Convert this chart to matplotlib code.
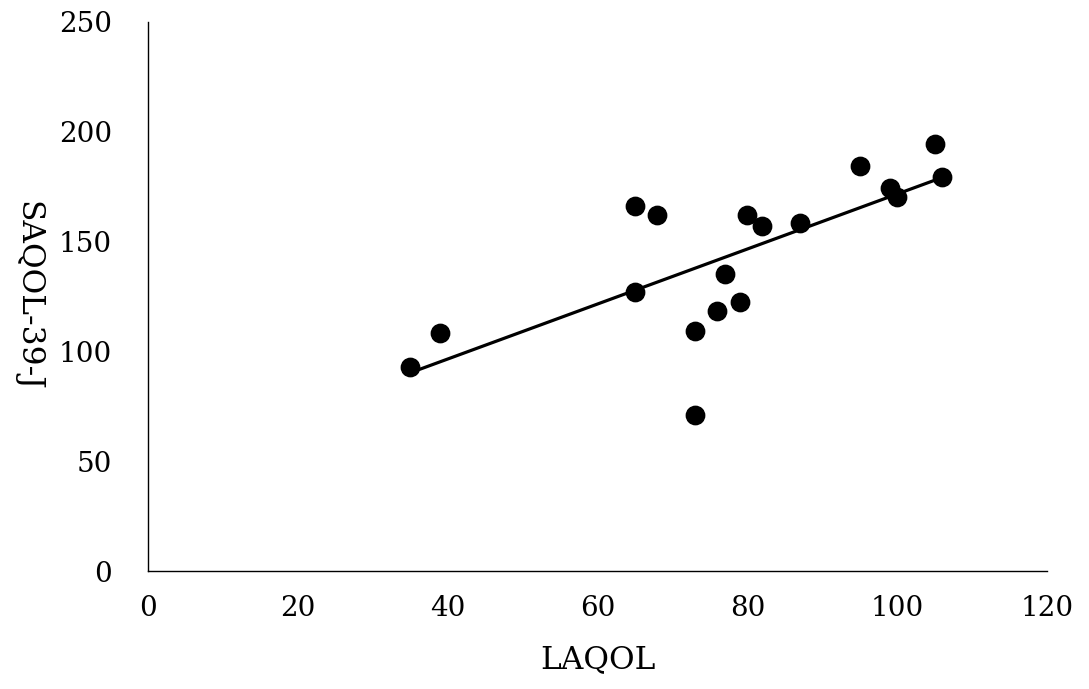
import matplotlib.pyplot as plt
import numpy as np

# LAQOL vs SAQOL-39-J
laqol = [35, 39, 65, 68, 65, 73, 73, 77, 76, 79, 80, 82, 87, 95, 99, 100, 105, 106]
saqol = [93.0, 108.5, 166.2, 161.9, 127.2, 109.5, 71.2, 135.2, 118.3, 122.5,
         161.9, 157.1, 158.6, 184.6, 174.3, 170.1, 194.4, 179.6]

x = np.asarray(laqol)
y = np.asarray(saqol)
coeff = np.polyfit(x, y, 1)
t = np.poly1d(coeff)
xl = np.array([x.min(), x.max()])

plt.rcParams['font.family'] = ['DejaVu Serif']

fig = plt.figure(figsize=(10.89, 6.89), dpi=100)
ax = fig.add_axes([148/1089, 118/689, 899/1089, 549/689])

ax.plot(xl, t(xl), '-', color='black', lw=2.3, zorder=2)
ax.scatter(x, y, s=175, color='black', zorder=3)

ax.set_xlim(0, 120)
ax.set_ylim(0, 250)
ax.set_xticks(np.arange(0, 121, 20))
ax.set_yticks(np.arange(0, 251, 50))
ax.tick_params(length=0, labelsize=20)
ax.tick_params(axis='x', pad=17)
ax.tick_params(axis='y', pad=26)
for s in ['top', 'right']:
    ax.spines[s].set_visible(False)
for s in ['left', 'bottom']:
    ax.spines[s].set_linewidth(1.0)
    ax.spines[s].set_color('black')

ax.set_xlabel('LAQOL', fontsize=22.5, labelpad=16)
# y label reads top to bottom
fig.text(28/1089, 1 - 296/689, 'SAQOL-39-J', fontsize=22.5, rotation=270,
         ha='center', va='center')

plt.savefig("out.png", dpi=100)
